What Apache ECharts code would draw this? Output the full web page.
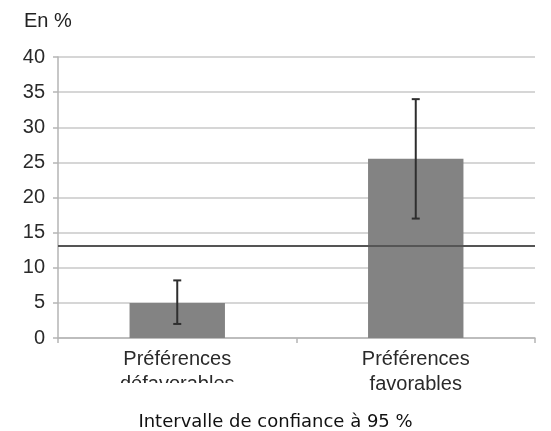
<!DOCTYPE html>
<html>
<head>
<meta charset="utf-8">
<script src="https://cdn.jsdelivr.net/npm/echarts@6/dist/echarts.min.js"></script>
<style>
html,body{margin:0;padding:0;background:#fff;}
#c{width:551px;height:431px;}
</style>
</head>
<body>
<div id="c"></div>
<script>
const categories = ['Préférences\ndéfavorables', 'Préférences\nfavorables'];
const values = [5, 25.5];
const ciLow = [2, 17];
const ciHigh = [8.2, 34];
const refLine = 13.2;
const yTicks = [0, 5, 10, 15, 20, 25, 30, 35, 40];
const unitLabel = 'En %';
const caption = 'Intervalle de confiance à 95 %';

const chart = echarts.init(document.getElementById('c'));
const font = '"Liberation Sans", Arial, Helvetica, sans-serif';

chart.setOption({
  animation: false,
  backgroundColor: '#fff',
  title: {
    text: unitLabel,
    left: 19,
    top: 6,
    textStyle: { fontFamily: font, fontSize: 20, fontWeight: 'normal', color: '#222' }
  },
  grid: { left: 58, right: 16, top: 57, bottom: 93, containLabel: false },
  xAxis: {
    type: 'category',
    data: categories,
    boundaryGap: true,
    axisLine: { lineStyle: { color: '#b5b5b5', width: 1.5 } },
    axisTick: { show: true, length: 5, lineStyle: { color: '#b5b5b5', width: 1.5 } },
    axisLabel: {
      interval: 0, margin: 9, fontFamily: font, fontSize: 20, lineHeight: 25, color: '#2a2a2a'
    }
  },
  yAxis: {
    type: 'value',
    min: yTicks[0],
    max: yTicks[yTicks.length - 1],
    interval: yTicks[1] - yTicks[0],
    axisLine: { show: true, lineStyle: { color: '#b5b5b5', width: 1.5 } },
    axisTick: { show: true, length: 5, lineStyle: { color: '#b5b5b5', width: 1.5 } },
    axisLabel: { margin: 13, fontFamily: font, fontSize: 20, color: '#2a2a2a' },
    splitLine: { show: true, lineStyle: { color: '#c8c8c8', width: 1.5 } }
  },
  series: [
    {
      type: 'bar',
      data: values,
      barWidth: '40%',
      itemStyle: { color: '#838383' },
      markLine: {
        silent: true,
        symbol: ['none', 'none'],
        label: { show: false },
        lineStyle: { color: '#555', width: 2, type: 'solid' },
        data: [{ yAxis: refLine }]
      }
    },
    {
      type: 'custom',
      data: categories.map((c, i) => [i, ciLow[i], ciHigh[i]]),
      z: 10,
      renderItem: function (params, api) {
        const x = api.value(0);
        const lo = api.coord([x, api.value(1)]);
        const hi = api.coord([x, api.value(2)]);
        const cap = 4;
        const style = { stroke: '#2e2e2e', lineWidth: 2 };
        return {
          type: 'group',
          children: [
            { type: 'line', shape: { x1: lo[0], y1: lo[1], x2: hi[0], y2: hi[1] }, style: style },
            { type: 'line', shape: { x1: lo[0] - cap, y1: lo[1], x2: lo[0] + cap, y2: lo[1] }, style: style },
            { type: 'line', shape: { x1: hi[0] - cap, y1: hi[1], x2: hi[0] + cap, y2: hi[1] }, style: style }
          ]
        };
      }
    }
  ],
  graphic: [
    {
      type: 'rect', z: 100,
      shape: { x: 60, y: 383, width: 230, height: 20 },
      style: { fill: '#fff' }
    },
    {
      type: 'rect', z: 100,
      shape: { x: 0, y: 392, width: 551, height: 12 },
      style: { fill: '#fff' }
    },
    {
      type: 'text', z: 101,
      left: 'center', top: 413,
      style: {
        text: caption,
        font: '18px "DejaVu Sans", sans-serif',
        fill: '#111'
      }
    }
  ]
});
</script>
</body>
</html>
